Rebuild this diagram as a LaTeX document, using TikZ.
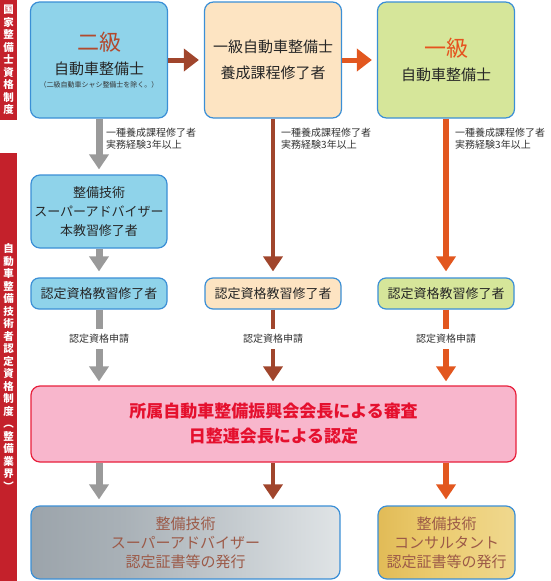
\documentclass[tikz,border=0pt]{standalone}
\usepackage{fontspec}
\setmainfont{Noto Sans CJK JP}
\usetikzlibrary{arrows.meta}

\definecolor{sidered}{HTML}{C4212B}
\definecolor{boxline}{HTML}{3B8FD6}
\definecolor{fillA}{HTML}{8FD3EA}
\definecolor{fillB}{HTML}{FDE4C2}
\definecolor{fillC}{HTML}{D6E69A}
\definecolor{fillP}{HTML}{F8B6CC}
\definecolor{lineP}{HTML}{E8203C}
\definecolor{txtP}{HTML}{E5102E}
\definecolor{nikyu}{HTML}{B24A2E}
\definecolor{ikkyu}{HTML}{E5531F}
\definecolor{arrgray}{HTML}{9A9A9A}
\definecolor{arrbrown}{HTML}{A0452C}
\definecolor{arrorange}{HTML}{E2571F}
\definecolor{txtdark}{HTML}{262626}
\definecolor{txtlabel}{HTML}{333333}
\definecolor{bronze}{HTML}{9C5A48}
\definecolor{steelA}{HTML}{858E97}
\definecolor{steelB}{HTML}{A9B1B7}
\definecolor{steelC}{HTML}{E4E8EA}
\definecolor{goldA}{HTML}{D5A73A}
\definecolor{goldB}{HTML}{EBCB6E}
\definecolor{goldC}{HTML}{F3E3AA}

\pgfdeclarehorizontalshading{steel}{100bp}{color(0bp)=(steelA); color(40bp)=(steelB); color(78bp)=(steelC); color(100bp)=(steelB)}
\pgfdeclarehorizontalshading{goldplate}{100bp}{color(0bp)=(goldA); color(45bp)=(goldB); color(100bp)=(goldC)}

\tikzset{
  sidebar/.style={fill=sidered, text=white, minimum width=17pt, inner sep=0pt, align=center,
    font=\fontsize{10.5}{12.5}\selectfont\bfseries},
  box/.style={draw=boxline, line width=1.2pt, rounded corners=9pt, align=center,
    inner sep=0pt, text=txtdark},
  topbox/.style={box, minimum width=137pt, minimum height=116pt},
  kyoshu/.style={box, minimum width=136pt, minimum height=31pt, rounded corners=8pt,
    font=\fontsize{13}{16}\selectfont},
  cond/.style={align=left, anchor=west, text=txtlabel, inner sep=0pt,
    font=\fontsize{10}{12}\selectfont},
  req/.style={text=txtlabel, inner sep=0pt, minimum height=20pt,
    font=\fontsize{10}{10}\selectfont},
  grayline/.style={draw=arrgray, line width=7pt},
  brownline/.style={draw=arrbrown, line width=4.6pt},
  orangeline/.style={draw=arrorange, line width=5.2pt},
}

\begin{document}
\begin{tikzpicture}[x=1pt,y=-1pt,>={Triangle[width=19pt,length=15pt]}]
\useasboundingbox (0,0) rectangle (550,581);

% side bars
\node[sidebar, minimum height=120pt] (side1) at (8.5,60)
  {国\\家\\整\\備\\士\\資\\格\\制\\度};
\node[sidebar, minimum height=428pt] (side2) at (8.5,367)
  {自\\動\\車\\整\\備\\技\\術\\者\\認\\定\\資\\格\\制\\度\\︵\\整\\備\\業\\界\\︶};

% national qualification
\node[topbox, fill=fillA, font=\fontsize{15}{23.5}\selectfont] (A1) at (99,60)
  {{\fontsize{22}{22}\selectfont\color{nikyu}二級}\\自動車整備士\\[-10.5pt]
   {\fontsize{7}{7}\selectfont\color{txtlabel}（二級自動車シャシ整備士を除く。）}};
\node[topbox, fill=fillB, font=\fontsize{15}{26}\selectfont] (B1) at (273,60)
  {一級自動車整備士\\養成課程修了者};
\node[topbox, fill=fillC, font=\fontsize{15}{23.5}\selectfont] (C1) at (446,60)
  {{\fontsize{22}{22}\selectfont\color{ikkyu}一級}\\自動車整備士};

\draw[brownline, line width=5pt, ->, >={Triangle[width=22pt,length=15pt]}, shorten >=5pt] (A1) -- (B1);
\draw[orangeline, line width=5pt, ->, >={Triangle[width=22pt,length=15pt]}, shorten >=5pt] (B1) -- (C1);

% conditions
\node[cond] (q1) at (106,139) {一種養成課程修了者\\実務経験3年以上};
\node[cond] (q2) at (281,139) {一種養成課程修了者\\実務経験3年以上};
\node[cond] (q3) at (455,139) {一種養成課程修了者\\実務経験3年以上};

\node[box, fill=fillA, minimum width=136pt, minimum height=73pt,
  font=\fontsize{13}{19}\selectfont] (A2) at (99,211.5)
  {整備技術\\スーパーアドバイザー\\本教習修了者};

\node[kyoshu, fill=fillA] (A3) at (99,293.5) {認定資格教習修了者};
\node[kyoshu, fill=fillB] (B3) at (273,293.5) {認定資格教習修了者};
\node[kyoshu, fill=fillC] (C3) at (446,293.5) {認定資格教習修了者};

\draw[grayline, ->, shorten >=5pt] (A1) -- (A2);
\draw[grayline, ->, shorten >=6pt] (A2) -- (A3);
\draw[brownline, ->, shorten >=6pt] (B1) -- (B3);
\draw[orangeline, ->, shorten >=6pt] (C1) -- (C3);

% application
\node[req] (r1) at (99,339) {認定資格申請};
\node[req] (r2) at (273,339) {認定資格申請};
\node[req] (r3) at (446,339) {認定資格申請};

\node[box, draw=lineP, fill=fillP, minimum width=485pt, minimum height=76pt,
  text=txtP, font=\fontsize{17}{25}\selectfont\bfseries] (P) at (273.5,424)
  {所属自動車整備振興会会長による審査\\日整連会長による認定};

\draw[grayline] (A3) -- (r1);
\draw[grayline, ->, shorten >=4pt] (r1) -- (r1 |- P.north);
\draw[brownline] (B3) -- (r2);
\draw[brownline, ->, shorten >=4pt] (r2) -- (r2 |- P.north);
\draw[orangeline] (C3) -- (r3);
\draw[orangeline, ->, shorten >=4pt] (r3) -- (r3 |- P.north);

% certificates
\node[box, shading=steel, minimum width=309pt, minimum height=73pt,
  text=bronze, font=\fontsize{15}{19}\selectfont] (S) at (185.5,542.5)
  {整備技術\\スーパーアドバイザー\\認定証書等の発行};
\node[box, shading=goldplate, minimum width=137pt, minimum height=73pt,
  text=bronze, font=\fontsize{15}{19}\selectfont] (G) at (446.5,542.5)
  {整備技術\\コンサルタント\\認定証書等の発行};

\draw[grayline, ->, shorten >=6pt] (A3 |- P.south) -- (A3 |- S.north);
\draw[brownline, ->, shorten >=6pt] (B3 |- P.south) -- (B3 |- S.north);
\draw[orangeline, ->, shorten >=6pt] (C3 |- P.south) -- (C3 |- G.north);
\end{tikzpicture}
\end{document}
